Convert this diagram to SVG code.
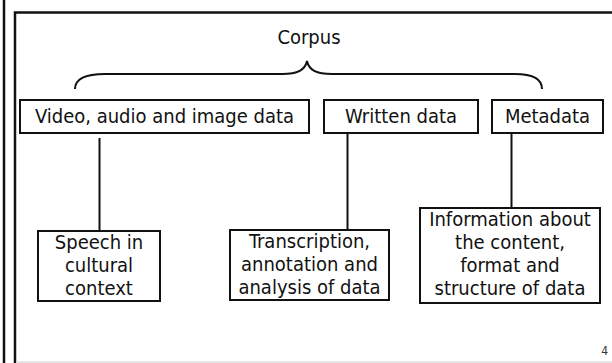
<svg xmlns="http://www.w3.org/2000/svg" width="612" height="363" viewBox="0 0 612 363">
<style>
text{font-family:"DejaVu Sans Condensed","DejaVu Sans",sans-serif;font-stretch:semi-condensed;font-size:20px;fill:#111;text-anchor:middle}
.box{fill:#fff;stroke:#111;stroke-width:2}
.ln{stroke:#111;stroke-width:2;fill:none}
</style>
<rect width="612" height="363" fill="#fff"/>
<g id="frame">
<line x1="4" y1="0" x2="4" y2="363" stroke="#111" stroke-width="2.5"/>
<path d="M612 12.5H15V363" fill="none" stroke="#111" stroke-width="2.5"/>
<line x1="16" y1="362" x2="612" y2="362" stroke="#ddd" stroke-width="1.5"/>
</g>
<g id="corpus">
<text x="309" y="44">Corpus</text>
<path class="ln" d="M75 89C75 79 84 74 105 74L282 74C298 74 305 70 307 61C309 70 316 74 332 74L515 74C534 74 542 80 542 89" stroke-width="2.5"/>
</g>
<g id="connectors">
<line class="ln" x1="99.5" y1="138" x2="99.5" y2="231"/>
<line class="ln" x1="347.5" y1="133" x2="347.5" y2="230"/>
<line class="ln" x1="511.5" y1="133" x2="511.5" y2="208"/>
</g>
<g id="video">
<rect class="box" x="20" y="100" width="289" height="33"/>
<text x="164.5" y="123">Video, audio and image data</text>
</g>
<g id="written">
<rect class="box" x="324" y="100" width="154" height="33"/>
<text x="401" y="123">Written data</text>
</g>
<g id="metadata">
<rect class="box" x="492" y="100" width="111" height="33"/>
<text x="547.5" y="123">Metadata</text>
</g>
<g id="speech">
<rect class="box" x="38" y="231" width="122" height="70"/>
<text x="99" y="249">Speech in</text>
<text x="99" y="272">cultural</text>
<text x="99" y="295">context</text>
</g>
<g id="transcription">
<rect class="box" x="230" y="230" width="159" height="70"/>
<text x="309.5" y="248">Transcription,</text>
<text x="309.5" y="271">annotation and</text>
<text x="309.5" y="294">analysis of data</text>
</g>
<g id="information">
<rect class="box" x="420" y="208" width="180" height="95"/>
<text x="510" y="226">Information about</text>
<text x="510" y="249">the content,</text>
<text x="510" y="272">format and</text>
<text x="510" y="295">structure of data</text>
</g>
<text x="608" y="355" style="font-size:12px;text-anchor:end;fill:#333">4</text>
</svg>
